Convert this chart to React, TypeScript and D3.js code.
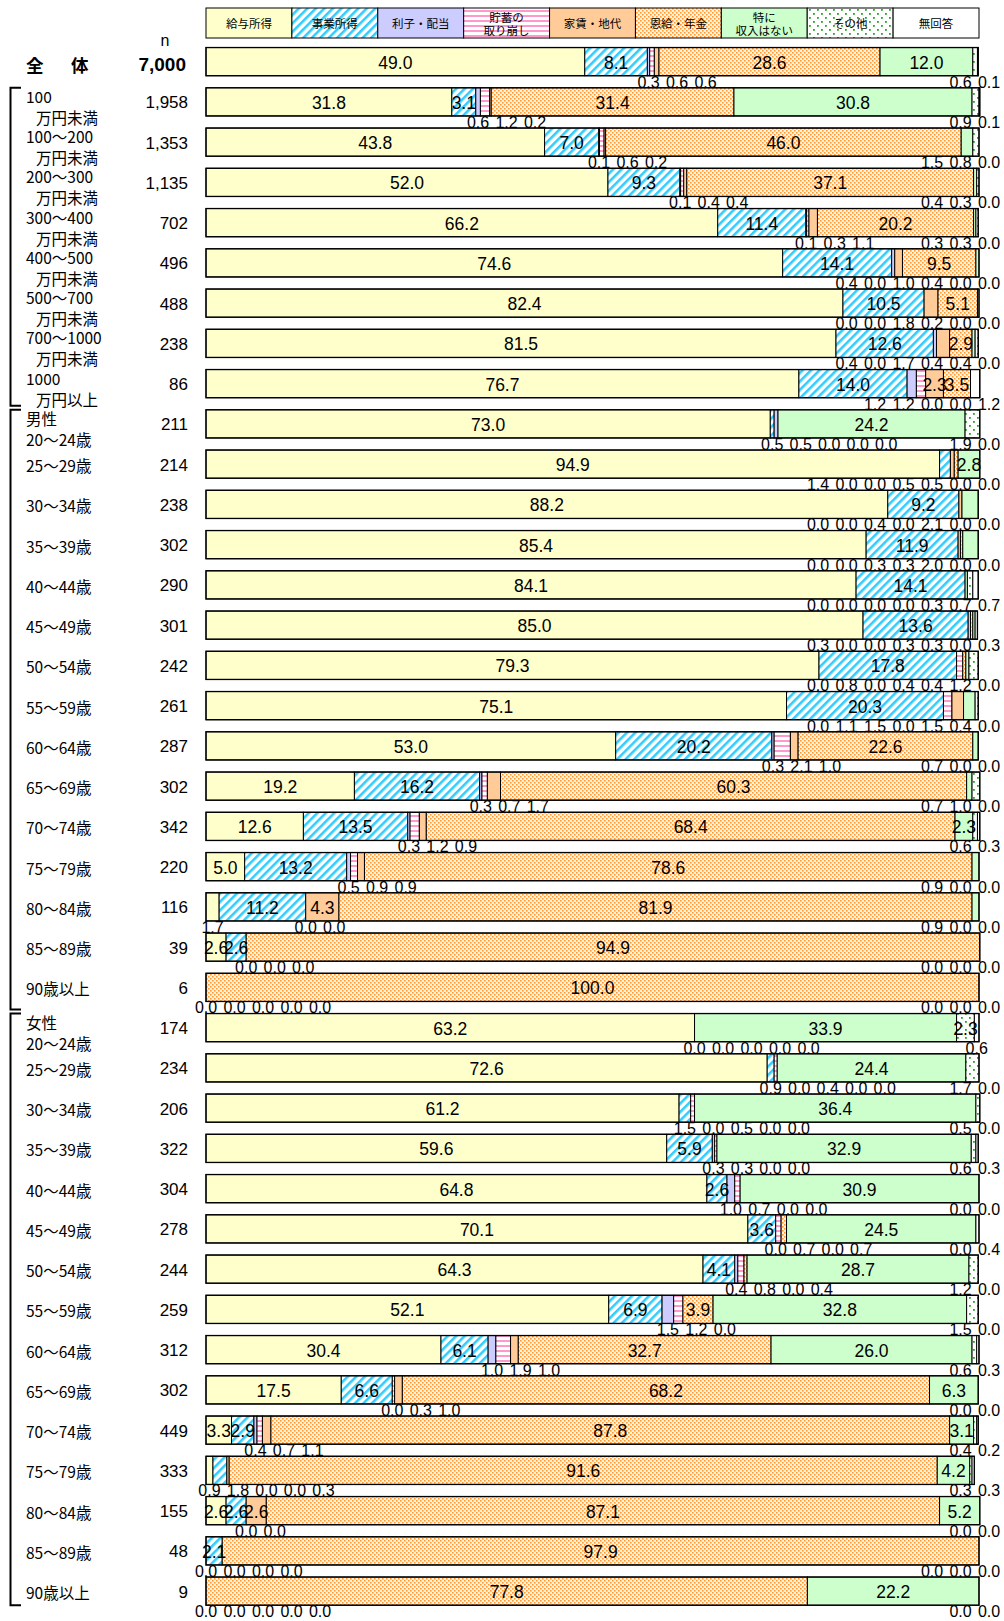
import React from 'react';
import * as d3 from 'd3';

const categories = ['給与所得', '事業所得', '利子・配当', '貯蓄の取り崩し', '家賃・地代', '恩給・年金', '特に収入はない', 'その他', '無回答'];
const legendLines = [['給与所得'], ['事業所得'], ['利子・配当'], ['貯蓄の', '取り崩し'], ['家賃・地代'], ['恩給・年金'], ['特に', '収入はない'], ['その他'], ['無回答']];

const overallLabel = '全　体';
const overallN = 7000;
const overallValues = [49.0, 8.1, 0.3, 0.6, 0.6, 28.6, 12.0, 0.6, 0.1];

const incomeLabels = [
  ['100', '万円未満'], ['100～200', '万円未満'], ['200～300', '万円未満'], ['300～400', '万円未満'],
  ['400～500', '万円未満'], ['500～700', '万円未満'], ['700～1000', '万円未満'], ['1000', '万円以上'],
];
const incomeN = [1958, 1353, 1135, 702, 496, 488, 238, 86];
const incomeValues = [
  [31.8, 3.1, 0.6, 1.2, 0.2, 31.4, 30.8, 0.9, 0.1],
  [43.8, 7.0, 0.1, 0.6, 0.2, 46.0, 1.5, 0.8, 0.0],
  [52.0, 9.3, 0.1, 0.4, 0.4, 37.1, 0.4, 0.3, 0.0],
  [66.2, 11.4, 0.1, 0.3, 1.1, 20.2, 0.3, 0.3, 0.0],
  [74.6, 14.1, 0.4, 0.0, 1.0, 9.5, 0.4, 0.0, 0.0],
  [82.4, 10.5, 0.0, 0.0, 1.8, 5.1, 0.2, 0.0, 0.0],
  [81.5, 12.6, 0.4, 0.0, 1.7, 2.9, 0.4, 0.4, 0.0],
  [76.7, 14.0, 1.2, 1.2, 2.3, 3.5, 0.0, 0.0, 1.2],
];

const ageLabels = ['20～24歳', '25～29歳', '30～34歳', '35～39歳', '40～44歳', '45～49歳', '50～54歳', '55～59歳', '60～64歳', '65～69歳', '70～74歳', '75～79歳', '80～84歳', '85～89歳', '90歳以上'];

const maleN = [211, 214, 238, 302, 290, 301, 242, 261, 287, 302, 342, 220, 116, 39, 6];
const maleValues = [
  [73.0, 0.5, 0.5, 0.0, 0.0, 0.0, 24.2, 1.9, 0.0],
  [94.9, 1.4, 0.0, 0.0, 0.5, 0.5, 2.8, 0.0, 0.0],
  [88.2, 9.2, 0.0, 0.0, 0.4, 0.0, 2.1, 0.0, 0.0],
  [85.4, 11.9, 0.0, 0.0, 0.3, 0.3, 2.0, 0.0, 0.0],
  [84.1, 14.1, 0.0, 0.0, 0.0, 0.0, 0.3, 0.7, 0.7],
  [85.0, 13.6, 0.3, 0.0, 0.0, 0.3, 0.3, 0.0, 0.3],
  [79.3, 17.8, 0.0, 0.8, 0.0, 0.4, 0.4, 1.2, 0.0],
  [75.1, 20.3, 0.0, 1.1, 1.5, 0.0, 1.5, 0.4, 0.0],
  [53.0, 20.2, 0.3, 2.1, 1.0, 22.6, 0.7, 0.0, 0.0],
  [19.2, 16.2, 0.3, 0.7, 1.7, 60.3, 0.7, 1.0, 0.0],
  [12.6, 13.5, 0.3, 1.2, 0.9, 68.4, 2.3, 0.6, 0.3],
  [5.0, 13.2, 0.5, 0.9, 0.9, 78.6, 0.9, 0.0, 0.0],
  [1.7, 11.2, 0.0, 0.0, 4.3, 81.9, 0.9, 0.0, 0.0],
  [2.6, 2.6, 0.0, 0.0, 0.0, 94.9, 0.0, 0.0, 0.0],
  [0.0, 0.0, 0.0, 0.0, 0.0, 100.0, 0.0, 0.0, 0.0],
];

const femaleN = [174, 234, 206, 322, 304, 278, 244, 259, 312, 302, 449, 333, 155, 48, 9];
const femaleValues = [
  [63.2, 0.0, 0.0, 0.0, 0.0, 0.0, 33.9, 2.3, 0.6],
  [72.6, 0.9, 0.0, 0.4, 0.0, 0.0, 24.4, 1.7, 0.0],
  [61.2, 1.5, 0.0, 0.5, 0.0, 0.0, 36.4, 0.5, 0.0],
  [59.6, 5.9, 0.3, 0.3, 0.0, 0.0, 32.9, 0.6, 0.3],
  [64.8, 2.6, 1.0, 0.7, 0.0, 0.0, 30.9, 0.0, 0.0],
  [70.1, 3.6, 0.0, 0.7, 0.0, 0.7, 24.5, 0.0, 0.4],
  [64.3, 4.1, 0.4, 0.8, 0.0, 0.4, 28.7, 1.2, 0.0],
  [52.1, 6.9, 1.5, 1.2, 0.0, 3.9, 32.8, 1.5, 0.0],
  [30.4, 6.1, 1.0, 1.9, 1.0, 32.7, 26.0, 0.6, 0.3],
  [17.5, 6.6, 0.0, 0.3, 1.0, 68.2, 6.3, 0.0, 0.0],
  [3.3, 2.9, 0.4, 0.7, 1.1, 87.8, 3.1, 0.4, 0.2],
  [0.9, 1.8, 0.0, 0.0, 0.3, 91.6, 4.2, 0.3, 0.3],
  [2.6, 2.6, 0.0, 0.0, 2.6, 87.1, 5.2, 0.0, 0.0],
  [0.0, 2.1, 0.0, 0.0, 0.0, 97.9, 0.0, 0.0, 0.0],
  [0.0, 0.0, 0.0, 0.0, 0.0, 77.8, 22.2, 0.0, 0.0],
];

type Row = { id: string; kind: 'total' | 'income' | 'male' | 'female'; lines: string[]; n: number; values: number[] };

const rows: Row[] = [
  { id: 'total', kind: 'total', lines: [overallLabel], n: overallN, values: overallValues },
  ...incomeLabels.map((l, i) => ({ id: 'inc' + i, kind: 'income' as const, lines: l, n: incomeN[i], values: incomeValues[i] })),
  ...ageLabels.map((l, i) => ({ id: 'm' + i, kind: 'male' as const, lines: i === 0 ? ['男性', l] : [l], n: maleN[i], values: maleValues[i] })),
  ...ageLabels.map((l, i) => ({ id: 'f' + i, kind: 'female' as const, lines: i === 0 ? ['女性', l] : [l], n: femaleN[i], values: femaleValues[i] })),
];

const fills = ['#FFFFCC', 'url(#pJigyo)', '#CCCCFF', 'url(#pChochiku)', '#FFCC99', 'url(#pOnkyu)', '#CCFFCC', 'url(#pSonota)', '#FFFFFF'];

const NUM_FONT = "'Liberation Sans Narrow','Arial Narrow','Liberation Sans','Noto Sans CJK JP',sans-serif";
const JP_FONT = "'Noto Sans CJK JP','Liberation Sans Narrow',sans-serif";

function layoutBelow(xs: number[], spacing: number, xMax: number) {
  const pos = xs.slice();
  for (let i = 1; i < pos.length; i++) pos[i] = Math.max(pos[i], pos[i - 1] + spacing);
  if (pos.length) pos[pos.length - 1] = Math.min(pos[pos.length - 1], xMax);
  for (let i = pos.length - 2; i >= 0; i--) pos[i] = Math.min(pos[i], pos[i + 1] - spacing);
  return pos;
}

const isInside = (v: number, ci: number) => v >= 2.25 || (ci === 1 && v >= 2.05);

export default function App() {
  const W = 1004, H = 1621;
  const x = d3.scaleLinear().domain([0, 100]).range([206, 979]);
  const step = 40.25;
  const y0 = 41.5;
  const y = d3.scaleBand<string>().domain(rows.map(r => r.id)).range([y0, y0 + rows.length * step]).paddingInner(0.3).paddingOuter(0.15);
  const bw = y.bandwidth();
  const legendX = d3.scaleBand<number>().domain(d3.range(9)).range([206, 979]);
  const fmt = d3.format('.1f');

  const brackets: [number, number][] = [
    [y('inc0')!, y('m0')! - 4],
    [y('m0')!, y('f0')! - 4],
    [y('f0')!, y('f14')! + bw],
  ];

  return (
    <div>
      <style>{'body{margin:0}'}</style>
      <svg width={W} height={H} style={{ display: 'block', background: '#fff' }}>
        <defs>
          <pattern id="pJigyo" patternUnits="userSpaceOnUse" width="6" height="6" patternTransform="rotate(45)">
            <rect width="6" height="6" fill="#fff" />
            <rect x="0" y="0" width="2.6" height="6" fill="#33CCFF" />
          </pattern>
          <pattern id="pChochiku" patternUnits="userSpaceOnUse" width="6" height="5">
            <rect width="6" height="5" fill="#fff" />
            <rect x="0" y="0" width="6" height="2" fill="#FF99CC" />
          </pattern>
          <pattern id="pOnkyu" patternUnits="userSpaceOnUse" width="4" height="4">
            <rect width="4" height="4" fill="#FFF2E0" />
            <rect x="0" y="0" width="1.6" height="1.6" fill="#FF9A30" />
            <rect x="2" y="2" width="1.6" height="1.6" fill="#FF9A30" />
          </pattern>
          <pattern id="pSonota" patternUnits="userSpaceOnUse" width="8" height="8">
            <rect width="8" height="8" fill="#fff" />
            <rect x="1" y="1" width="1.8" height="1.8" fill="#22A822" />
            <rect x="5" y="5" width="1.8" height="1.8" fill="#22A822" />
          </pattern>
        </defs>

        {categories.map((c, i) => {
          const lx = legendX(i)!;
          const lw = legendX.bandwidth();
          const lines = legendLines[i];
          return (
            <g key={c}>
              <rect x={lx} y={8} width={lw} height={30} fill={fills[i]} stroke="#000" strokeWidth={1} />
              {lines.map((t, j) => (
                <text key={j} x={lx + lw / 2} y={23 + (j - (lines.length - 1) / 2) * 13} textAnchor="middle" dominantBaseline="central"
                  fontFamily={JP_FONT} fontSize={11.5} fill="#000">{t}</text>
              ))}
            </g>
          );
        })}
        <text x={165} y={40} textAnchor="middle" dominantBaseline="central" fontFamily={NUM_FONT} fontSize={16}>n</text>

        {brackets.map(([t, b], i) => (
          <path key={i} d={`M21,${t}H10.5V${b}H21`} fill="none" stroke="#000" strokeWidth={2} />
        ))}

        {rows.map(r => {
          const top = y(r.id)!;
          const cy = top + bw / 2;
          const bottom = top + bw;
          let cum = 0;
          const segs = r.values.map((v, ci) => {
            const s = { ci, v, x0: x(cum), x1: x(cum + v) };
            cum += v;
            return s;
          });
          const inside = segs.filter(s => isInside(s.v, s.ci));
          const below = segs.filter(s => !isInside(s.v, s.ci));
          const bx = layoutBelow(below.map(s => (s.x0 + s.x1) / 2), 28.5, 989);
          return (
            <g key={r.id}>
              {r.kind === 'total' ? (
                <>
                  <text x={26} y={cy + 3} dominantBaseline="central" fontFamily={JP_FONT} fontWeight="bold" fontSize={17.5} letterSpacing={5}>{r.lines[0]}</text>
                  <text x={186} y={cy + 3} textAnchor="end" dominantBaseline="central" fontFamily={NUM_FONT} fontWeight="bold" fontSize={19}>{d3.format(',')(r.n)}</text>
                </>
              ) : (
                <>
                  {r.lines.length === 2 ? (
                    <>
                      <text x={26} y={cy - 6} dominantBaseline="central" fontFamily={JP_FONT} fontSize={15.5}>{r.lines[0]}</text>
                      <text x={r.kind === 'income' ? 36 : 26} y={cy + 15} dominantBaseline="central" fontFamily={JP_FONT} fontSize={15.5}>{r.lines[1]}</text>
                    </>
                  ) : (
                    <text x={26} y={cy + 1} dominantBaseline="central" fontFamily={JP_FONT} fontSize={15.5}>{r.lines[0]}</text>
                  )}
                  <text x={188} y={cy + 1} textAnchor="end" dominantBaseline="central" fontFamily={NUM_FONT} fontSize={17}>{d3.format(',')(r.n)}</text>
                </>
              )}
              {segs.map(s => (
                <rect key={s.ci} x={s.x0} y={top} width={Math.max(0, s.x1 - s.x0)} height={bw} fill={fills[s.ci]} stroke="#000" strokeWidth={1} />
              ))}
              <rect x={x(0)} y={top} width={x(cum) - x(0)} height={bw} fill="none" stroke="#000" strokeWidth={1.3} />
              {inside.map(s => (
                <text key={'i' + s.ci} x={(s.x0 + s.x1) / 2} y={cy + 1} textAnchor="middle" dominantBaseline="central" fontFamily={NUM_FONT} fontSize={17.5}>{fmt(s.v)}</text>
              ))}
              {below.map((s, k) => (
                <text key={'b' + s.ci} x={bx[k]} y={bottom + 12} textAnchor="middle" fontFamily={NUM_FONT} fontSize={16}>{fmt(s.v)}</text>
              ))}
            </g>
          );
        })}
      </svg>
    </div>
  );
}
